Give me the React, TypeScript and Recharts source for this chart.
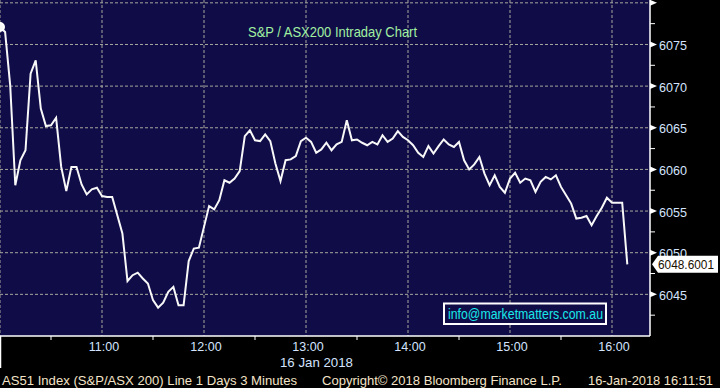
import React from "react";
import { LineChart, Line, XAxis, YAxis, CartesianGrid } from "recharts";

// 3-minute bars of AS51 from 10:00
const closeValues = [
  6077.1, 6076.5, 6070.1, 6058.1, 6061.1, 6062.3, 6071.5, 6073.1, 6067.3, 6065.2,
  6065.3, 6066.2, 6060.3, 6057.4, 6060.3, 6060.3, 6058.2, 6057.0, 6057.6, 6057.8,
  6056.8, 6056.7, 6056.7, 6054.5, 6052.3, 6046.6, 6047.3, 6047.6, 6046.9, 6046.3,
  6044.3, 6043.4, 6044.0, 6045.3, 6045.9, 6043.7, 6043.7, 6049.0, 6050.5, 6050.6,
  6053.1, 6055.6, 6055.2, 6056.3, 6058.7, 6058.4, 6058.9, 6059.8, 6064.0, 6064.7,
  6063.5, 6063.4, 6064.2, 6063.4, 6060.7, 6058.6, 6061.1, 6061.2, 6061.6, 6063.4,
  6063.8, 6063.3, 6062.0, 6062.4, 6063.2, 6062.3, 6063.0, 6063.3, 6065.9, 6063.5,
  6063.6, 6063.2, 6062.9, 6063.3, 6063.0, 6064.1, 6063.3, 6063.7, 6064.6, 6063.9,
  6063.5, 6062.9, 6062.0, 6061.5, 6062.8, 6061.9, 6062.8, 6063.6, 6063.0, 6062.7,
  6063.3, 6061.1, 6060.0, 6060.6, 6061.5, 6059.5, 6058.1, 6059.3, 6057.9, 6057.2,
  6058.9, 6059.6, 6058.4, 6058.9, 6058.7, 6057.3, 6058.5, 6059.1, 6058.8, 6059.3,
  6057.9, 6056.9, 6055.9, 6054.1, 6054.2, 6054.4, 6053.3, 6054.4, 6055.4, 6056.6,
  6056.0, 6056.0, 6056.0, 6048.6001,
];
const barMinutes = closeValues.map((_, i) => i * 3); // minutes after 10:00
const lastValue = closeValues[closeValues.length - 1];

const xTickMinutes = [0, 30, 60, 90, 120, 150, 180, 210, 240, 270, 300, 330, 360];
const xHourLabels = ["10:00", "11:00", "12:00", "13:00", "14:00", "15:00", "16:00"];
const gridMinutes = [0, 60, 120, 180, 240, 300, 360];
const yMajor = [6045, 6050, 6055, 6060, 6065, 6070, 6075, 6080];
const yMinor = [6042.5, 6047.5, 6052.5, 6057.5, 6062.5, 6067.5, 6072.5, 6077.5];

const data = closeValues.map((v, i) => ({ t: barMinutes[i], v }));

const NAVY = "#100c48";
const TICK_COLOR = "#d4e4ff";
const FOOT_COLOR = "#f4e4c8";
const FONT = "'Liberation Sans', Arial, sans-serif";

const XTick = (props: any) => {
  const { x, y, payload } = props;
  const v = payload.value;
  if (v === 0) {
    return <line x1={x + 0.5} y1={y} x2={x + 0.5} y2={y + 32} stroke="#fff" strokeWidth={1.5} />;
  }
  if (v % 60 === 30) {
    return <line x1={x} y1={y} x2={x} y2={y + 4} stroke="#fff" strokeWidth={1} />;
  }
  const label = xHourLabels[v / 60];
  return (
    <text x={x + 2} y={y + 15} textAnchor="middle" fill={TICK_COLOR} fontSize={12.5} fontFamily={FONT}>
      {label}
    </text>
  );
};

const YTick = (props: any) => {
  const { x, y, payload } = props;
  const v = payload.value;
  if (v === lastValue) {
    return (
      <g>
        <polygon
          points={`${x + 2},${y} ${x + 8},${y - 8.5} ${x + 68},${y - 8.5} ${x + 68},${y + 8.5} ${x + 8},${y + 8.5}`}
          fill="#ffffff"
        />
        <text x={x + 8} y={y + 5} fill="#1a1000" fontSize={13} fontFamily={FONT} textLength={56} lengthAdjust="spacingAndGlyphs">
          {v.toFixed(4)}
        </text>
      </g>
    );
  }
  if (yMinor.includes(v)) {
    return <line x1={x} y1={y} x2={x + 5} y2={y} stroke="#fff" strokeWidth={1} />;
  }
  return (
    <g>
      <polygon points={`${x},${y - 3} ${x + 7},${y} ${x},${y + 3}`} fill="#fff" />
      {v < 6080 && (
        <text x={x + 9} y={y + 5.5} fill={TICK_COLOR} fontSize={13.5} fontFamily={FONT} textLength={28} lengthAdjust="spacingAndGlyphs">
          {v}
        </text>
      )}
    </g>
  );
};

export default function App() {
  // last-value marker is listed last so it is painted above the 6050 label
  const yTicks = [...yMinor, ...yMajor, lastValue];
  return (
    <div style={{ position: "fixed", left: 0, top: 0, width: 720, height: 388, background: "#000", overflow: "hidden" }}>
      <LineChart width={720} height={388} data={data} margin={{ top: 0, right: 0, bottom: 0, left: 0 }}>
        <CartesianGrid
          fill={NAVY}
          stroke="#a8a89c"
          strokeDasharray="3 2"
          horizontalValues={yMajor}
          verticalValues={gridMinutes}
        />
        <XAxis
          dataKey="t"
          type="number"
          domain={[0, 650 / 1.7]}
          allowDataOverflow
          ticks={xTickMinutes}
          interval={0}
          height={52}
          tickSize={0}
          tickMargin={0}
          tickLine={false}
          axisLine={{ stroke: "#fff", strokeWidth: 1.5 }}
          tick={<XTick />}
        />
        <YAxis
          orientation="right"
          type="number"
          domain={[6040, 6080.34]}
          allowDataOverflow
          ticks={yTicks}
          interval={0}
          width={70}
          tickSize={0}
          tickMargin={0}
          tickLine={false}
          axisLine={{ stroke: "#fff", strokeWidth: 1.5 }}
          tick={<YTick />}
        />
        <Line type="linear" dataKey="v" stroke="#f8f8f8" strokeWidth={2} dot={false} isAnimationActive={false} />
      </LineChart>
      <svg width={720} height={388} style={{ position: "absolute", left: 0, top: 0, pointerEvents: "none" }}>
        <text x={248} y={37} fill="#a0f0a0" fontSize={14.5} fontFamily={FONT} textLength={169} lengthAdjust="spacingAndGlyphs">
          S&amp;P / ASX200 Intraday Chart
        </text>
        <rect x={444} y={303.5} width={162} height={20.5} fill={NAVY} stroke="#fff" strokeWidth={2} />
        <text x={448} y={318.5} fill="#18e8e8" fontSize={14} fontFamily={FONT} textLength={155} lengthAdjust="spacingAndGlyphs">
          info@marketmatters.com.au
        </text>
        <text x={280} y={367} fill={TICK_COLOR} fontSize={13} fontFamily={FONT} textLength={73} lengthAdjust="spacingAndGlyphs">
          16 Jan 2018
        </text>
        <text x={2} y={384.5} fill={FOOT_COLOR} fontSize={13} fontFamily={FONT} textLength={295} lengthAdjust="spacingAndGlyphs">
          AS51 Index (S&amp;P/ASX 200) Line 1 Days 3 Minutes
        </text>
        <text x={322} y={384.5} fill={FOOT_COLOR} fontSize={13} fontFamily={FONT} textLength={240} lengthAdjust="spacingAndGlyphs">
          Copyright© 2018 Bloomberg Finance L.P.
        </text>
        <text x={588} y={384.5} fill={FOOT_COLOR} fontSize={13} fontFamily={FONT} textLength={125} lengthAdjust="spacingAndGlyphs">
          16-Jan-2018 16:11:51
        </text>
      </svg>
    </div>
  );
}
